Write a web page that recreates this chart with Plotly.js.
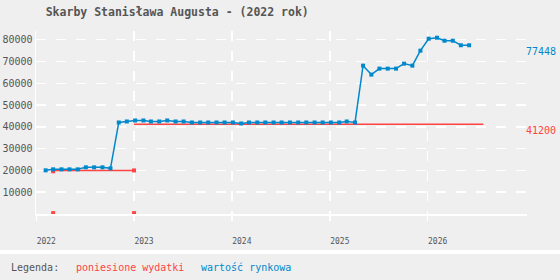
<!DOCTYPE html>
<html>
<head>
<meta charset="utf-8">
<script src="https://cdn.plot.ly/plotly-3.0.1.min.js"></script>
<style>
  html, body { margin: 0; padding: 0; background: #efefef; }
  #chart { width: 560px; height: 280px; }
</style>
</head>
<body>
<div id="chart"></div>
<script>
// ---- data ----
const chartTitle = "Skarby Stanisława Augusta - (2022 rok)";
const legendLabel = "Legenda:";
const costName = "poniesione wydatki";
const valueName = "wartość rynkowa";

const valueDates = [
  "2022-02-05","2022-03-05","2022-04-05","2022-05-05","2022-06-05","2022-07-05",
  "2022-08-05","2022-09-05","2022-10-05","2022-11-05","2022-12-05",
  "2023-01-05","2023-02-05","2023-03-05","2023-04-05","2023-05-05","2023-06-05",
  "2023-07-05","2023-08-05","2023-09-05","2023-10-05","2023-11-05","2023-12-05",
  "2024-01-05","2024-02-05","2024-03-05","2024-04-05","2024-05-05","2024-06-05",
  "2024-07-05","2024-08-05","2024-09-05","2024-10-05","2024-11-05","2024-12-05",
  "2025-01-05","2025-02-05","2025-03-05","2025-04-05","2025-05-05","2025-06-05",
  "2025-07-05","2025-08-05","2025-09-05","2025-10-05","2025-11-05","2025-12-05",
  "2026-01-05","2026-02-05","2026-03-05","2026-04-05","2026-05-05","2026-06-05"
];
const marketValues = [
  20050, 20500, 20500, 20500, 20500, 21420,
  21420, 21420, 20960, 42010, 42470,
  42930, 42930, 42470, 42470, 42930, 42470,
  42470, 42010, 42010, 42010, 42010, 42010,
  42010, 41560, 42010, 42010, 42010, 42010,
  42010, 42010, 42010, 42010, 42010, 42010,
  42010, 42010, 42470, 42010, 68100, 63980,
  66730, 66730, 66730, 69020, 68100, 74970,
  80460, 80920, 79540, 79540, 77448, 77448
];

// cumulative expenses (two separate levels, no vertical connector)
const costDates  = ["2022-03-05", "2023-01-01", null, "2023-01-01", "2026-07-28"];
const costValues = [20000, 20000, null, 41200, 41200];
const costMarkerDates  = ["2022-03-05", "2023-01-01"];
const costMarkerValues = [19600, 20000];
const purchaseDates  = ["2022-03-05", "2023-01-01"];
const purchaseLevels = [400, 400];

const yTicks = [10000, 20000, 30000, 40000, 50000, 60000, 70000, 80000];
const xTicks = ["2022-01-01", "2023-01-01", "2024-01-01", "2025-01-01", "2026-01-01"];
const xTickText = ["2022", "2023", "2024", "2025", "2026"];

// ---- style ----
const BLUE = "#0088cc";
const RED = "#ff4444";
const GRAY = "#555555";
const BG = "#efefef";
const MONO = "DejaVu Sans Mono, monospace";

const traces = [
  {
    x: costDates, y: costValues, type: "scatter", mode: "lines",
    line: { color: RED, width: 1.5 }, connectgaps: false, hoverinfo: "skip", name: costName
  },
  {
    x: costMarkerDates, y: costMarkerValues, type: "scatter", mode: "markers",
    marker: { color: RED, symbol: "square", size: 4 }, hoverinfo: "skip"
  },
  {
    x: purchaseDates, y: purchaseLevels, type: "scatter", mode: "markers",
    marker: { color: RED, symbol: "square", size: 4 }, hoverinfo: "skip"
  },
  {
    x: valueDates, y: marketValues, type: "scatter", mode: "lines+markers",
    line: { color: BLUE, width: 1.5 },
    marker: { color: BLUE, symbol: "square", size: 4 }, name: valueName
  }
];

const lastValue = marketValues[marketValues.length - 1];
const lastCost = costValues[costValues.length - 1];

const layout = {
  width: 560, height: 280,
  paper_bgcolor: BG, plot_bgcolor: BG,
  showlegend: false,
  margin: { l: 36, r: 33, t: 30.5, b: 66 },
  title: {
    text: chartTitle,
    font: { family: MONO, size: 11.5, color: GRAY, weight: "bold" },
    x: 45.7 / 560, xanchor: "left", xref: "container",
    y: 1 - 12 / 280, yanchor: "middle", yref: "container"
  },
  xaxis: {
    type: "date",
    range: ["2021-12-31", "2027-01-07"],
    tickvals: xTicks, ticktext: xTickText,
    showgrid: true, gridcolor: "#ffffff", gridwidth: 1.5, griddash: "10px,10px",
    showline: true, linecolor: "#ffffff", linewidth: 2,
    ticks: "outside", ticklen: 5, tickcolor: "#ffffff", tickwidth: 1.5,
    tickfont: { family: MONO, size: 8, color: GRAY },
    ticklabelshift: 10, ticklabelstandoff: 13,
    zeroline: false, fixedrange: true
  },
  yaxis: {
    range: [0, 84000],
    tickvals: yTicks, ticktext: yTicks.map(String),
    showgrid: true, gridcolor: "#ffffff", gridwidth: 1.5, griddash: "10px,10px",
    showline: true, linecolor: "#ffffff", linewidth: 1.5,
    ticks: "", tickfont: { family: MONO, size: 10, color: GRAY },
    zeroline: false, fixedrange: true
  },
  shapes: [
    { type: "line", xref: "paper", yref: "paper",
      x0: -0.08, x1: 1.08, y0: -(252 - 214) / 183.5, y1: -(252 - 214) / 183.5,
      line: { color: "#ffffff", width: 4 } }
  ],
  annotations: [
    { xref: "paper", yref: "y", x: 1, y: lastValue, xanchor: "left", yanchor: "middle",
      xshift: -3, yshift: -6.5, text: String(lastValue), showarrow: false,
      font: { family: MONO, size: 10, color: BLUE } },
    { xref: "paper", yref: "y", x: 1, y: lastCost, xanchor: "left", yanchor: "middle",
      xshift: -3, yshift: -6.5, text: String(lastCost), showarrow: false,
      font: { family: MONO, size: 10, color: RED } },
    { xref: "paper", yref: "paper", x: 0, y: 0, xanchor: "left", yanchor: "middle",
      xshift: -27.5, yshift: -53, text: legendLabel, showarrow: false,
      font: { family: MONO, size: 10, color: GRAY } },
    { xref: "paper", yref: "paper", x: 0, y: 0, xanchor: "left", yanchor: "middle",
      xshift: 37.5, yshift: -53, text: costName, showarrow: false,
      font: { family: MONO, size: 10, color: RED } },
    { xref: "paper", yref: "paper", x: 0, y: 0, xanchor: "left", yanchor: "middle",
      xshift: 163, yshift: -53, text: valueName, showarrow: false,
      font: { family: MONO, size: 10, color: BLUE } }
  ]
};

Plotly.newPlot("chart", traces, layout, { displayModeBar: false, staticPlot: true });
</script>
</body>
</html>
